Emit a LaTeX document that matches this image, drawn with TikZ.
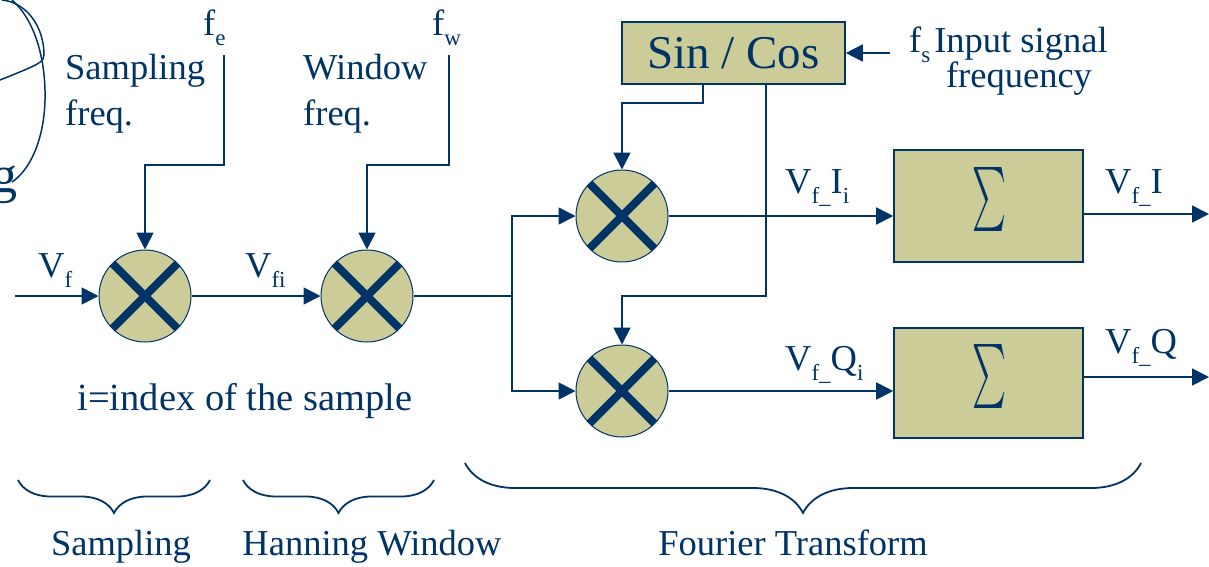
\documentclass[tikz,border=0pt]{standalone}
\usepackage{fontspec}
\setmainfont{Liberation Serif}
\usetikzlibrary{arrows.meta,decorations.pathreplacing}
\definecolor{navy}{RGB}{0,51,102}
\definecolor{khaki}{RGB}{204,204,153}
\newcommand{\sbs}[1]{\raisebox{-0.28em}{\fontsize{23}{23}\selectfont #1}}
\begin{document}
\begin{tikzpicture}[x=1pt,y=-1pt,
  line/.style={draw=navy,line width=1.8pt},
  arr/.style={line,-{Triangle[length=17pt,width=17pt]}},
  mixer/.style={circle,draw=navy,line width=1pt,fill=khaki,minimum size=92pt,inner sep=0pt,
    path picture={\draw[navy,line width=8pt] (path picture bounding box.north west) -- (path picture bounding box.south east)
      (path picture bounding box.north east) -- (path picture bounding box.south west);}},
  box/.style={draw=navy,line width=1.6pt,fill=khaki,inner sep=0pt,text=navy},
  lbl/.style={text=navy,font=\fontsize{36.5}{40}\selectfont,inner sep=0pt},
  brc/.style={draw=navy,line width=1.8pt,decorate,decoration={brace,mirror,amplitude=#1}}
]
\useasboundingbox (0,0) rectangle (1209,566);

% stray curves top-left
\draw[navy,line width=1.5pt] (2,0) .. controls (25,2) and (44,25) .. (44,55) .. controls (44,62) and (40,64) .. (0,80);
\draw[navy,line width=1.5pt] (12,0) .. controls (35,20) and (46,60) .. (45,100) .. controls (44,140) and (30,170) .. (12,182);
\node[lbl,font=\fontsize{52}{52}\selectfont,anchor=base east] (g) at (18,192) {g};

% mixers
\node[mixer] (m1) at (145,296) {};
\node[mixer] (m2) at (367,296) {};
\node[mixer] (m3) at (622,216) {};
\node[mixer] (m4) at (622,391) {};

% boxes
\node[box,minimum width=223pt,minimum height=62pt,font=\fontsize{47}{50}\selectfont] (sc) at (733.5,53) {Sin / Cos};
\node[box,minimum width=189pt,minimum height=112pt] (s1) at (988.5,206) {};
\node[box,minimum width=189pt,minimum height=110pt] (s2) at (988.5,383) {};
\node[text=navy,inner sep=0pt] (sig1) at (989,199) {\resizebox{34pt}{48pt}{$\sum$}};
\node[text=navy,inner sep=0pt] (sig2) at (989,376) {\resizebox{34pt}{48pt}{$\sum$}};

% coordinates
\coordinate (in) at (15,296);
\coordinate (br) at (512,296);
\coordinate (fe) at (224,55);
\coordinate (fw) at (449,55);
\coordinate (fs) at (890,53);
\coordinate (o1) at (1209,214);
\coordinate (o2) at (1209,377);

% connectors
\draw[arr] (in) -- (m1.west);
\draw[arr] (m1.east) -- (m2.west);
\draw[line] (m2.east) -- (br);
\draw[arr] (br) |- (m3.west);
\draw[arr] (br) |- (m4.west);
\draw[arr] (fe) -- (224,165) -| (m1.north);
\draw[arr] (fw) -- (449,165) -| (m2.north);
\draw[arr] (fs) -- (sc.east);
\draw[arr] ([xshift=-30.5pt]sc.south) -- ++(0,18) -| (m3.north);
\draw[arr] ([xshift=32.5pt]sc.south) -- (766,296) -| (m4.north);
\draw[arr] (m3.east) -- (m3.east -| s1.west);
\draw[arr] (m4.east) -- (m4.east -| s2.west);
\draw[arr] (s1.east |- o1) -- (o1);
\draw[arr] (s2.east |- o2) -- (o2);

% labels
\node[lbl,anchor=base west] (lfe) at (203,35) {f\sbs{e}};
\node[lbl,anchor=base west] (lfw) at (432,35) {f\sbs{w}};
\node[lbl,anchor=base west] (sf1) at (65,79) {Sampling};
\node[lbl,anchor=base west] (sf2) at (65,125) {freq.};
\node[lbl,anchor=base west] (wf1) at (303,79) {Window};
\node[lbl,anchor=base west] (wf2) at (303,125) {freq.};
\node[lbl,anchor=base west] (lvf) at (38,277) {V\sbs{f}};
\node[lbl,anchor=base west] (lvfi) at (245,277) {V\sbs{fi}};
\node[lbl,anchor=base west] (lfs) at (909,52) {f\sbs{s}\hspace{4pt}Input signal};
\node[lbl,anchor=base] (lfreq) at (1019,87) {frequency};
\node[lbl,font=\fontsize{38.5}{40}\selectfont,anchor=base] (idx) at (245,410) {i=index of the sample};
\node[lbl,anchor=base west] (vii) at (785,193) {V\sbs{f\_}I\sbs{i}};
\node[lbl,anchor=base west] (vi) at (1105,193) {V\sbs{f\_}I};
\node[lbl,anchor=base west] (vqi) at (785,370) {V\sbs{f\_}Q\sbs{i}};
\node[lbl,anchor=base west] (vq) at (1105,353) {V\sbs{f\_}Q};

% braces
\draw[brc=33pt] (18,480) -- (210,480);
\draw[brc=33pt] (243,480) -- (434,480);
\draw[brc=50pt] (465,463) -- (1141,463);
\node[lbl,anchor=base] (b1) at (121,555) {Sampling};
\node[lbl,anchor=base] (b2) at (372,555) {Hanning Window};
\node[lbl,anchor=base] (b3) at (793,555) {Fourier Transform};
\end{tikzpicture}
\end{document}
